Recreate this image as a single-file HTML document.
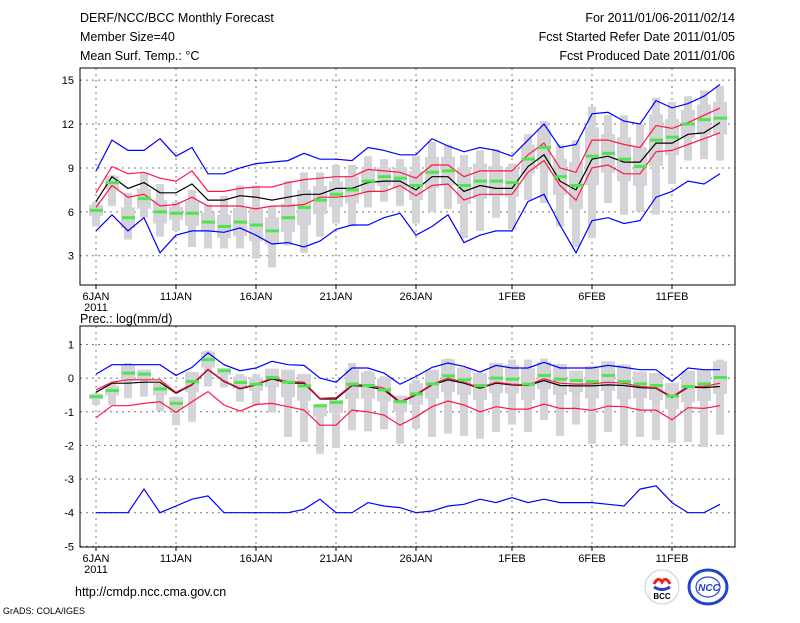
<!DOCTYPE html>
<html><head><meta charset="utf-8"><style>
body{margin:0;background:#fff;width:800px;height:618px;overflow:hidden}
svg text{font-family:"Liberation Sans",sans-serif;fill:#000}
</style></head><body>
<svg id="chart" width="800" height="618" xmlns="http://www.w3.org/2000/svg">
<g font-size="12.5">
<text x="80" y="22">DERF/NCC/BCC Monthly Forecast</text>
<text x="80" y="41">Member Size=40</text>
<text x="80" y="60">Mean Surf. Temp.: °C</text>
<text x="735" y="22" text-anchor="end">For 2011/01/06-2011/02/14</text>
<text x="735" y="41" text-anchor="end">Fcst Started Refer Date 2011/01/05</text>
<text x="735" y="60" text-anchor="end">Fcst Produced Date 2011/01/06</text>
</g>
<text x="80" y="323" font-size="12.5">Prec.: log(mm/d)</text>
<text x="75" y="596" font-size="12.5">http://cmdp.ncc.cma.gov.cn</text>
<text x="3" y="614" font-size="9">GrADS: COLA/IGES</text>
<g>
<circle cx="662" cy="587" r="17" fill="#fff" stroke="#ccc"/>
<path d="M654 584 q4-8 8-2 q4-6 8 2" stroke="#e22" stroke-width="3" fill="none"/>
<path d="M654 587 q8 5 16 0" stroke="#24c" stroke-width="3" fill="none"/>
<text x="662" y="599" font-size="8" font-weight="bold" text-anchor="middle">BCC</text>
</g>
<g>
<ellipse cx="708" cy="587" rx="19" ry="17" fill="none" stroke="#24c" stroke-width="3"/>
<ellipse cx="708" cy="587" rx="12" ry="10" fill="none" stroke="#24c" stroke-width="1.2"/>
<text x="709" y="591" font-size="10" font-weight="bold" font-style="italic" text-anchor="middle" style="fill:#24c">NCC</text>
</g>
<g id="top"></g><g id="bot"></g>
</svg>
<script>
const dayTicks=["6JAN","11JAN","16JAN","21JAN","26JAN","1FEB","6FEB","11FEB"];
const dayTickIdx=[0,5,10,15,20,26,31,36];
const tTicks=[3,6,9,12,15];
const pTicks=[1,0,-1,-2,-3,-4,-5];
const tBlueHi=[8.8,10.9,10.2,10.2,11.0,9.8,10.4,8.6,8.6,9.0,9.3,9.4,9.5,10.0,9.6,9.6,9.5,10.4,10.2,9.9,9.9,11.0,10.5,10.1,10.4,10.2,9.8,10.9,12.0,10.4,10.6,12.7,12.8,12.2,12.0,13.6,13.1,13.4,13.9,14.7];
const tRedHi=[7.3,9.1,8.6,8.7,8.3,8.1,8.8,7.4,7.4,7.6,7.7,7.7,8.0,8.2,8.3,8.4,8.4,8.9,8.8,8.7,8.3,9.2,9.2,8.4,8.8,8.8,8.8,9.9,10.7,9.0,8.7,10.9,10.9,10.6,10.4,11.9,11.7,12.1,12.6,13.1];
const tMean=[6.7,8.4,7.6,8.0,7.3,7.3,7.9,6.8,6.8,7.1,7.0,6.8,7.0,7.2,7.2,7.6,7.6,8.0,8.1,8.1,7.5,8.4,8.4,7.4,7.8,7.6,7.6,9.1,9.9,8.1,7.5,9.6,9.8,9.4,9.4,10.7,10.7,11.3,11.4,12.1];
const tRedLo=[6.3,7.8,7.0,7.2,6.4,6.5,7.0,6.4,6.4,6.4,6.2,6.4,6.4,6.5,7.0,7.0,7.1,7.4,7.4,7.8,7.1,7.8,7.9,6.8,7.2,7.2,7.2,8.7,9.5,7.8,6.8,9.0,9.2,8.6,8.6,10.1,10.2,10.6,11.0,11.4];
const tBlueLo=[4.7,5.8,4.7,5.6,3.2,4.4,4.7,4.7,4.6,4.9,4.4,3.8,3.9,3.6,4.0,4.8,5.1,5.1,5.6,5.9,4.4,5.0,5.8,3.9,4.4,4.7,4.7,6.7,7.2,5.1,3.2,5.4,5.6,5.2,5.4,7.0,7.4,8.1,7.9,8.6];
const tMedian=[6.1,8.0,5.6,6.9,6.0,5.9,5.9,5.3,5.0,5.3,5.1,4.7,5.6,6.3,6.8,7.2,7.5,8.1,8.4,8.3,7.8,8.7,8.8,7.8,8.1,8.1,8.0,9.6,10.4,8.4,7.8,9.8,10.0,9.6,9.1,10.9,11.1,12.0,12.3,12.4];
const tBoxHi=[6.7,8.5,7.3,8.7,7.9,6.7,7.5,6.5,7.1,7.8,7.8,6.4,8.1,8.7,8.7,9.2,9.2,9.8,9.6,9.6,9.8,10.8,10.6,9.9,10.2,10.3,9.3,11.3,12.2,10.6,10.9,13.2,12.6,12.6,12.0,13.8,13.5,13.9,14.3,14.6];
const tBoxLo=[5.0,6.4,4.1,5.6,4.3,4.7,3.6,3.5,3.5,3.5,2.8,2.2,3.7,3.2,4.3,5.2,5.0,6.3,6.7,6.4,5.2,6.0,6.2,4.2,4.7,5.6,4.8,6.8,6.6,5.0,3.6,4.2,6.6,5.8,6.0,5.8,7.9,9.5,9.6,9.5];
const pBlueHi=[0.12,0.4,0.4,0.4,0.4,0.08,0.32,0.75,0.4,0.22,0.3,0.5,0.4,0.38,0,-0.12,0.3,0.3,0.15,-0.18,0.05,0.32,0.45,0.35,0.18,0.38,0.3,0.3,0.47,0.3,0.3,0.3,0.38,0.32,0.25,0.25,-0.1,0.3,0.25,0.25];
const pRedHi=[-0.35,-0.12,-0.05,-0.05,-0.05,-0.42,-0.18,0.27,-0.08,-0.3,-0.18,0,-0.1,-0.12,-0.6,-0.58,-0.2,-0.2,-0.3,-0.7,-0.48,-0.18,0,-0.12,-0.28,-0.12,-0.18,-0.2,-0.02,-0.15,-0.18,-0.17,-0.12,-0.15,-0.25,-0.28,-0.55,-0.25,-0.25,-0.15];
const pMean=[-0.42,-0.15,-0.15,-0.12,-0.12,-0.45,-0.2,0.25,-0.1,-0.32,-0.2,-0.02,-0.15,-0.15,-0.62,-0.62,-0.22,-0.25,-0.35,-0.72,-0.5,-0.2,-0.05,-0.15,-0.3,-0.15,-0.2,-0.22,-0.07,-0.22,-0.23,-0.23,-0.2,-0.22,-0.28,-0.3,-0.58,-0.27,-0.28,-0.25];
const pRedLo=[-1.18,-0.82,-0.82,-0.75,-0.7,-1.02,-0.7,-0.4,-0.8,-0.98,-0.78,-0.75,-0.85,-0.95,-1.4,-1.4,-0.95,-1.0,-1.1,-1.4,-1.15,-0.85,-0.68,-0.8,-1.0,-0.85,-0.92,-0.92,-0.77,-0.9,-0.9,-0.96,-0.83,-0.85,-0.95,-0.95,-1.24,-0.88,-0.9,-0.82];
const pBlueLo=[-4,-4,-4,-3.3,-4,-3.8,-3.6,-3.5,-4,-4,-4,-4,-4,-3.9,-3.6,-4,-4,-3.7,-3.8,-3.85,-4,-3.95,-3.8,-3.75,-3.6,-3.7,-3.55,-3.7,-3.6,-3.7,-3.7,-3.7,-3.75,-3.8,-3.3,-3.2,-3.7,-4,-4,-3.75];
const pMedian=[-0.55,-0.37,0.15,0.12,-0.32,-0.75,-0.1,0.55,0.22,-0.13,-0.18,0.02,-0.12,-0.23,-0.82,-0.72,-0.18,-0.22,-0.35,-0.7,-0.47,-0.17,0.07,-0.05,-0.22,0,-0.03,-0.18,0.08,-0.03,-0.07,-0.1,0.08,-0.1,-0.17,-0.22,-0.53,-0.25,-0.17,0.02];
const pBoxHi=[-0.45,-0.15,0.45,0.25,-0.15,-0.55,0.18,0.82,0.3,0.12,0.12,0.28,0.25,0.12,-0.8,-0.65,0.45,0.22,0.05,-0.52,-0.05,0.25,0.58,0.32,0.15,0.45,0.55,0.55,0.58,0.42,0.22,0.35,0.5,0.4,0.2,0.15,-0.15,0.22,0.25,0.55];
const pBoxLo=[-0.8,-0.8,-0.6,-0.55,-0.98,-1.4,-1.3,-0.25,-0.28,-0.7,-0.8,-1.02,-1.75,-1.9,-2.25,-2.08,-1.55,-1.58,-1.52,-1.95,-1.5,-1.75,-1.65,-1.72,-1.8,-1.6,-1.38,-1.6,-1.25,-1.72,-1.38,-1.95,-1.6,-2.0,-1.75,-1.85,-1.92,-1.9,-2.05,-1.68];

const NS='http://www.w3.org/2000/svg';
const X0=80,X1=735;
const xDay=d=>96+16*d;
function mk(p,tag,at){const e=document.createElementNS(NS,tag);for(const k in at)e.setAttribute(k,at[k]);p.appendChild(e);return e;}
function panel(g,top,bot,vmax,vmin,yTicks,series,boxHi,boxLo,med){
  const y=v=>top+(vmax-v)/(vmax-vmin)*(bot-top);
  yTicks.forEach(t=>{
    if(t<vmax&&t>vmin){const l=mk(g,'line',{x1:X0,x2:X1,y1:y(t),y2:y(t),stroke:'#777','stroke-dasharray':'2,4'});
    
    }
    const tx=mk(g,'text',{x:74,y:y(t)+4,'text-anchor':'end','font-size':'11'});tx.textContent=t;
    
    
  });
  dayTickIdx.forEach((d,i)=>{
    const l=mk(g,'line',{x1:xDay(d),x2:xDay(d),y1:top,y2:bot,stroke:'#777','stroke-dasharray':'2,4'});
    
    
    mk(g,'line',{x1:xDay(d),x2:xDay(d),y1:bot,y2:bot+4,stroke:'#000'});
    const tx=mk(g,'text',{x:xDay(d),y:bot+15,'text-anchor':'middle','font-size':'11'});tx.textContent=dayTicks[i];
    
    
  });
  const yr=mk(g,'text',{x:xDay(0),y:bot+26,'text-anchor':'middle','font-size':'11'});yr.textContent='2011';
  
  
  boxHi.forEach((h,d)=>{
    const lo=boxLo[d],r=mk(g,'rect',{x:xDay(d)-4,y:y(h),width:8,height:y(lo)-y(h),fill:'#d3d3d8'});
    
    
    const span=(h-lo)*0.22,bh=Math.min(h,med[d]+span),bl=Math.max(lo,med[d]-span);
    const b=mk(g,'rect',{x:xDay(d)-7,y:y(bh),width:14,height:y(bl)-y(bh),fill:'#d3d3d8'});
    
    
  });
  series.forEach(s=>{
    const p=mk(g,'polyline',{points:s.v.map((v,d)=>xDay(d)+','+y(v).toFixed(1)).join(' '),fill:'none',stroke:s.c,'stroke-width':1.2});
    
    
  });
  med.forEach((m,d)=>{
    const r=mk(g,'rect',{x:xDay(d)-6,y:y(m)-1.5,width:13,height:3,fill:'#4ee64e'});
    
    
  });
  const f=mk(g,'rect',{x:X0,y:top,width:X1-X0,height:bot-top,fill:'none',stroke:'#000'});
  
  
}
panel(document.getElementById('top'),68,285,15.83,1.0,tTicks,[
 {v:tBlueHi,c:'#0000ff',n:'temp-max-line'},{v:tBlueLo,c:'#0000ff',n:'temp-min-line'},
 {v:tRedHi,c:'#ff1744',n:'temp-upper-line'},{v:tRedLo,c:'#ff1744',n:'temp-lower-line'},
 {v:tMean,c:'#000',n:'temp-mean-line'}],tBoxHi,tBoxLo,tMedian);
panel(document.getElementById('bot'),326,547,1.55,-5.02,pTicks,[
 {v:pBlueHi,c:'#0000ff',n:'precip-max-line'},{v:pBlueLo,c:'#0000ff',n:'precip-min-line'},
 {v:pRedLo,c:'#ff1744',n:'precip-lower-line'},{v:pMean,c:'#000',n:'precip-mean-line'},
 {v:pRedHi,c:'#ff1744',n:'precip-upper-line'}],pBoxHi,pBoxLo,pMedian);
</script>
</body></html>
